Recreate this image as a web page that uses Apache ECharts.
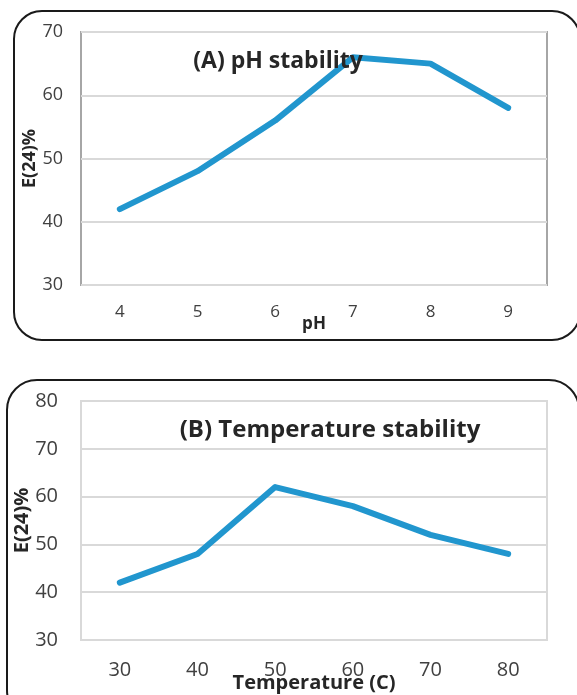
<!DOCTYPE html>
<html>
<head>
<meta charset="utf-8">
<script src="https://cdn.jsdelivr.net/npm/echarts@6/dist/echarts.min.js"></script>
<style>
html,body{margin:0;padding:0;background:#fff;}
#c{width:577px;height:695px;}
</style>
</head>
<body>
<div id="c"></div>
<script>
// Panel A: pH stability
const phCategories = ['4', '5', '6', '7', '8', '9'];
const phValues = [42, 48, 56, 66, 65, 58];
// Panel B: Temperature stability
const tempCategories = ['30', '40', '50', '60', '70', '80'];
const tempValues = [42, 48, 62, 58, 52, 48];

const titleA = '(A) pH stability';
const titleB = '(B) Temperature stability';
const yName = 'E(24)%';
const xNameA = 'pH';
const xNameB = 'Temperature (C)';

const FONT = 'Open Sans';
const LINE = '#2196CE';
const TXT = '#404040';

const chart = echarts.init(document.getElementById('c'), null, {renderer: 'canvas'});
chart.setOption({
  backgroundColor: '#fff',
  animation: false,
  textStyle: {fontFamily: FONT},
  title: [
    {text: titleA, left: 273, top: 45, textAlign: 'center',
     textStyle: {fontFamily: FONT, fontWeight: 'bold', fontSize: 23, color: '#262626'}},
    {text: titleB, left: 325, top: 413, textAlign: 'center',
     textStyle: {fontFamily: FONT, fontWeight: 'bold', fontSize: 24, color: '#262626'}}
  ],
  graphic: [
    {type: 'rect', shape: {x: 14, y: 11, width: 566, height: 329, r: 28},
     style: {fill: 'none', stroke: '#1a1a1a', lineWidth: 2}, z: 0},
    {type: 'rect', shape: {x: 7, y: 380, width: 572, height: 340, r: 30},
     style: {fill: 'none', stroke: '#1a1a1a', lineWidth: 2}, z: 0}
  ],
  grid: [
    {left: 81, top: 32, width: 466, height: 253, show: true, borderColor: '#a6a6a6', borderWidth: 2,
     backgroundColor: 'transparent', containLabel: false, outerBoundsMode: 'none'},
    {left: 81, top: 401, width: 466, height: 239, show: true, borderColor: '#d9d9d9', borderWidth: 2,
     backgroundColor: 'transparent', containLabel: false, outerBoundsMode: 'none'}
  ],
  xAxis: [
    {type: 'category', gridIndex: 0, data: phCategories, boundaryGap: true,
     axisLine: {show: false}, axisTick: {show: false},
     axisLabel: {margin: 19, fontSize: 17, color: TXT, fontFamily: FONT},
     name: xNameA, nameLocation: 'middle', nameGap: 31, nameMoveOverlap: false,
     nameTextStyle: {fontWeight: 'bold', fontSize: 17, color: '#262626', fontFamily: FONT}},
    {type: 'category', gridIndex: 1, data: tempCategories, boundaryGap: true,
     axisLine: {show: false}, axisTick: {show: false},
     axisLabel: {margin: 20, fontSize: 20, color: TXT, fontFamily: FONT},
     name: xNameB, nameLocation: 'middle', nameGap: 33, nameMoveOverlap: false,
     nameTextStyle: {fontWeight: 'bold', fontSize: 20, color: '#262626', fontFamily: FONT}}
  ],
  yAxis: [
    {type: 'value', gridIndex: 0, min: 30, max: 70, interval: 10,
     axisLine: {show: false}, axisTick: {show: false},
     axisLabel: {margin: 18, fontSize: 18, color: TXT, fontFamily: FONT},
     splitLine: {lineStyle: {color: '#d9d9d9', width: 2}},
     name: yName, nameLocation: 'middle', nameGap: 42, nameRotate: 90, nameMoveOverlap: false,
     nameTextStyle: {fontWeight: 'bold', fontSize: 18, color: '#262626', fontFamily: FONT}},
    {type: 'value', gridIndex: 1, min: 30, max: 80, interval: 10,
     axisLine: {show: false}, axisTick: {show: false},
     axisLabel: {margin: 23, fontSize: 20, color: TXT, fontFamily: FONT},
     splitLine: {lineStyle: {color: '#d9d9d9', width: 2}},
     name: yName, nameLocation: 'middle', nameGap: 49, nameRotate: 90, nameMoveOverlap: false,
     nameTextStyle: {fontWeight: 'bold', fontSize: 20, color: '#262626', fontFamily: FONT}}
  ],
  series: [
    {type: 'line', xAxisIndex: 0, yAxisIndex: 0, data: phValues, showSymbol: false, symbol: 'none',
     lineStyle: {color: LINE, width: 6, cap: 'round', join: 'round'}, z: 3},
    {type: 'line', xAxisIndex: 1, yAxisIndex: 1, data: tempValues, showSymbol: false, symbol: 'none',
     lineStyle: {color: LINE, width: 6, cap: 'round', join: 'round'}, z: 3}
  ]
});
</script>
</body>
</html>
